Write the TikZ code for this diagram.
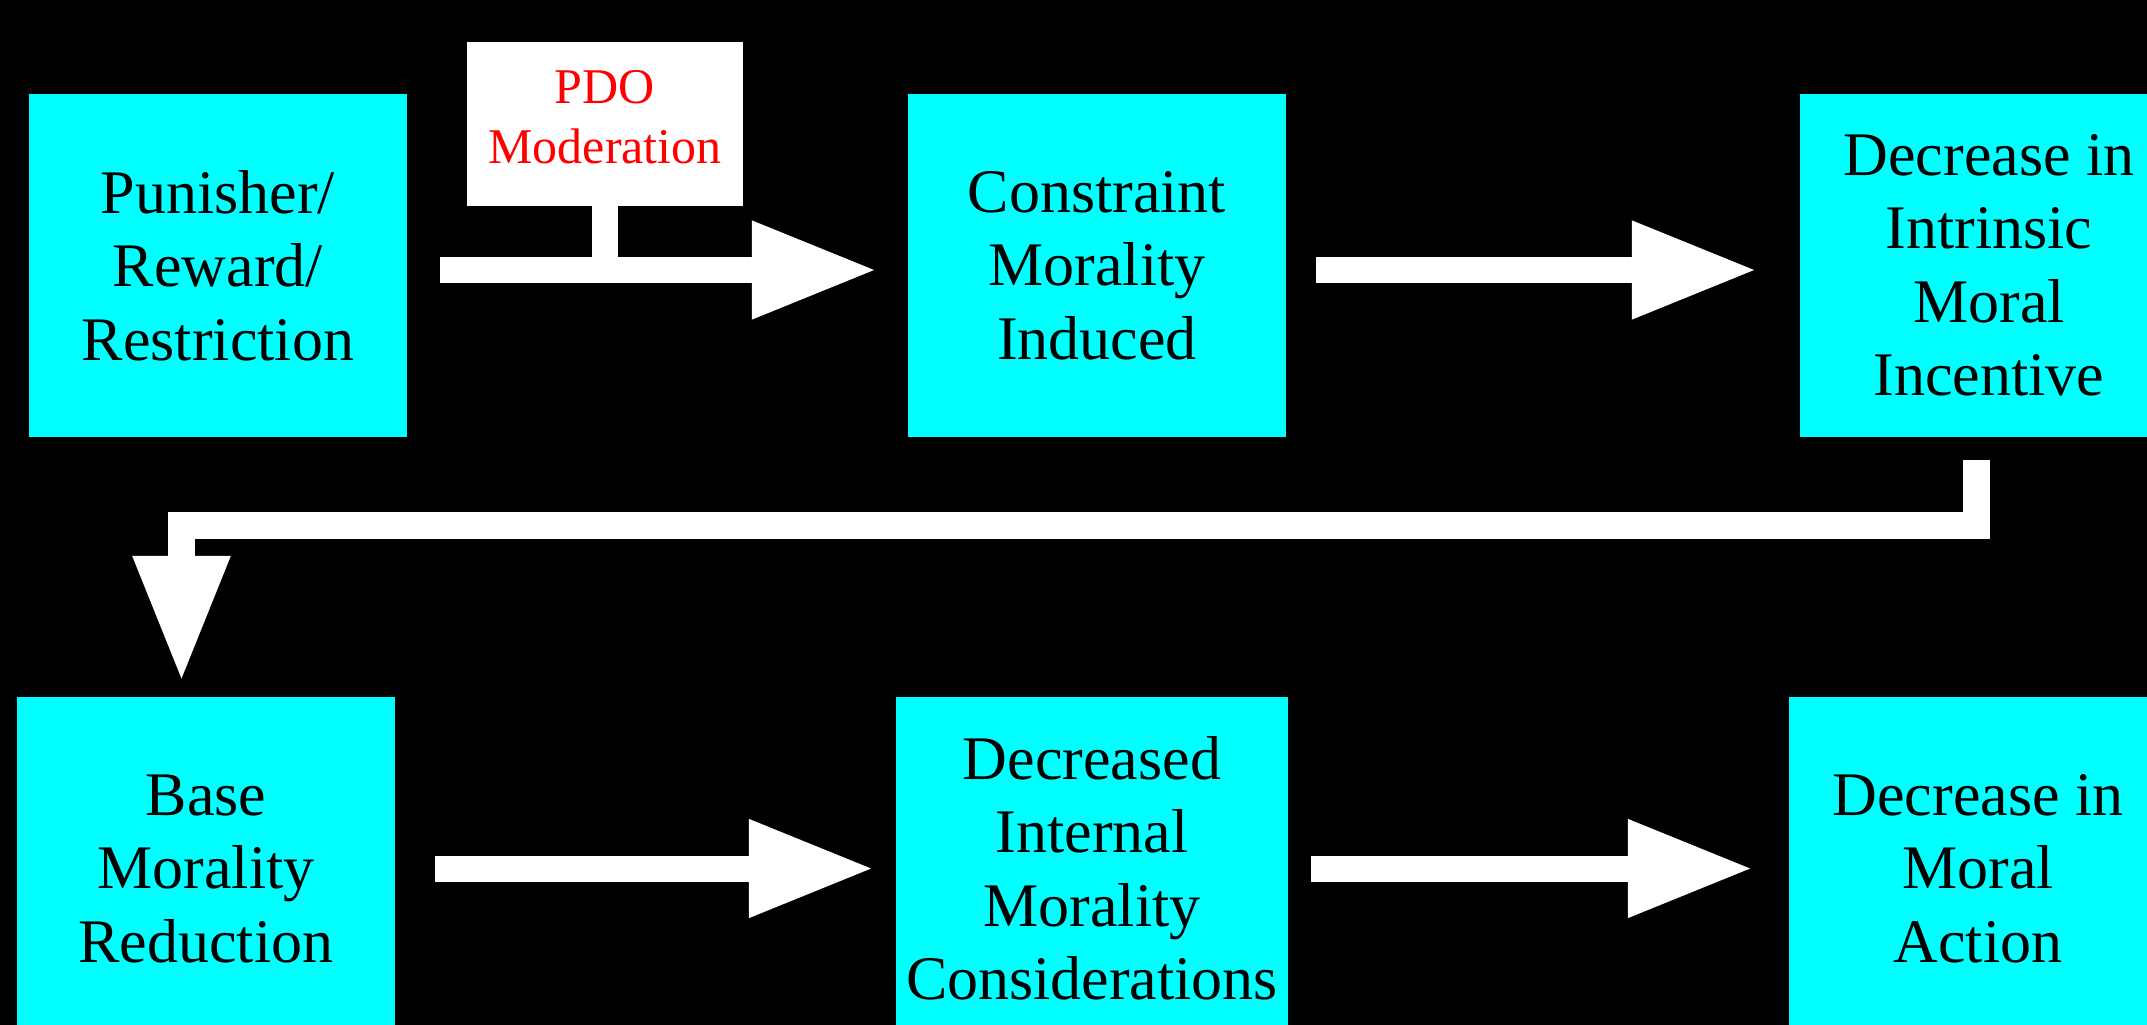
\documentclass[tikz,border=0pt]{standalone}
\usepackage{fontspec}
\setmainfont{Liberation Serif}
\usetikzlibrary{arrows.meta}
\definecolor{aqua}{RGB}{0,255,255}
\definecolor{pdored}{RGB}{255,0,0}
\tikzset{
  box/.style={fill=aqua, inner sep=0pt, minimum width=378pt, minimum height=343pt,
    align=center, text=black, font=\fontsize{62}{73.5}\selectfont},
  pdobox/.style={fill=white, inner sep=0pt, minimum width=276pt, minimum height=164pt},
  pdotext/.style={inner sep=0pt, align=center, text=pdored, font=\fontsize{50}{60}\selectfont},
  blockarrow/.style={draw=white, line width=26pt, line cap=butt,
    -{Triangle[length=126pt, width=91pt]}},
  stemline/.style={draw=white, line width=26pt, line cap=butt},
  elbowarrow/.style={draw=white, line width=27pt, line cap=butt, line join=miter,
    -{Triangle[length=127pt, width=90pt]}}
}
\begin{document}
\begin{tikzpicture}[x=1pt, y=-1pt]
\useasboundingbox (0,0) rectangle (2147,1025);
\clip (0,0) rectangle (2147,1025);
\fill[black] (0,0) rectangle (2147,1025);

\node[box] (b1) at (218,265.5) {Punisher/\\Reward/\\Restriction};
\node[box] (b2) at (1097,265.5) {Constraint\\Morality\\Induced};
\node[box] (b3) at (1989,265.5) {Decrease in\\Intrinsic\\Moral\\Incentive};
\node[box] (b4) at (206,868.5) {Base\\Morality\\Reduction};
\node[box, minimum width=392pt] (b5) at (1092,868.5) {Decreased\\Internal\\Morality\\Considerations};
\node[box] (b6) at (1978,868.5) {Decrease in\\Moral\\Action};
\node[pdobox] (pdo) at (605,124) {};
\node[pdotext] (pdolabel) at (605,117) {PDO\\Moderation};

\draw[blockarrow] ([xshift=33pt,yshift=-4.5pt]b1.east) -- ([xshift=-30pt,yshift=-4.5pt]b2.west);
\draw[stemline] (pdo.south) -- ++(0,77);
\draw[blockarrow] ([xshift=30pt,yshift=-4.5pt]b2.east) -- ([xshift=-42pt,yshift=-4.5pt]b3.west);
\draw[elbowarrow] ([xshift=-12.5pt,yshift=-23pt]b3.south) |- ([xshift=-24.5pt,yshift=171.5pt]b4.north) -- ([xshift=-24.5pt,yshift=14pt]b4.north);
\draw[blockarrow] ([xshift=40pt]b4.east) -- ([xshift=-21pt]b5.west);
\draw[blockarrow] ([xshift=23pt]b5.east) -- ([xshift=-35pt]b6.west);
\end{tikzpicture}
\end{document}
